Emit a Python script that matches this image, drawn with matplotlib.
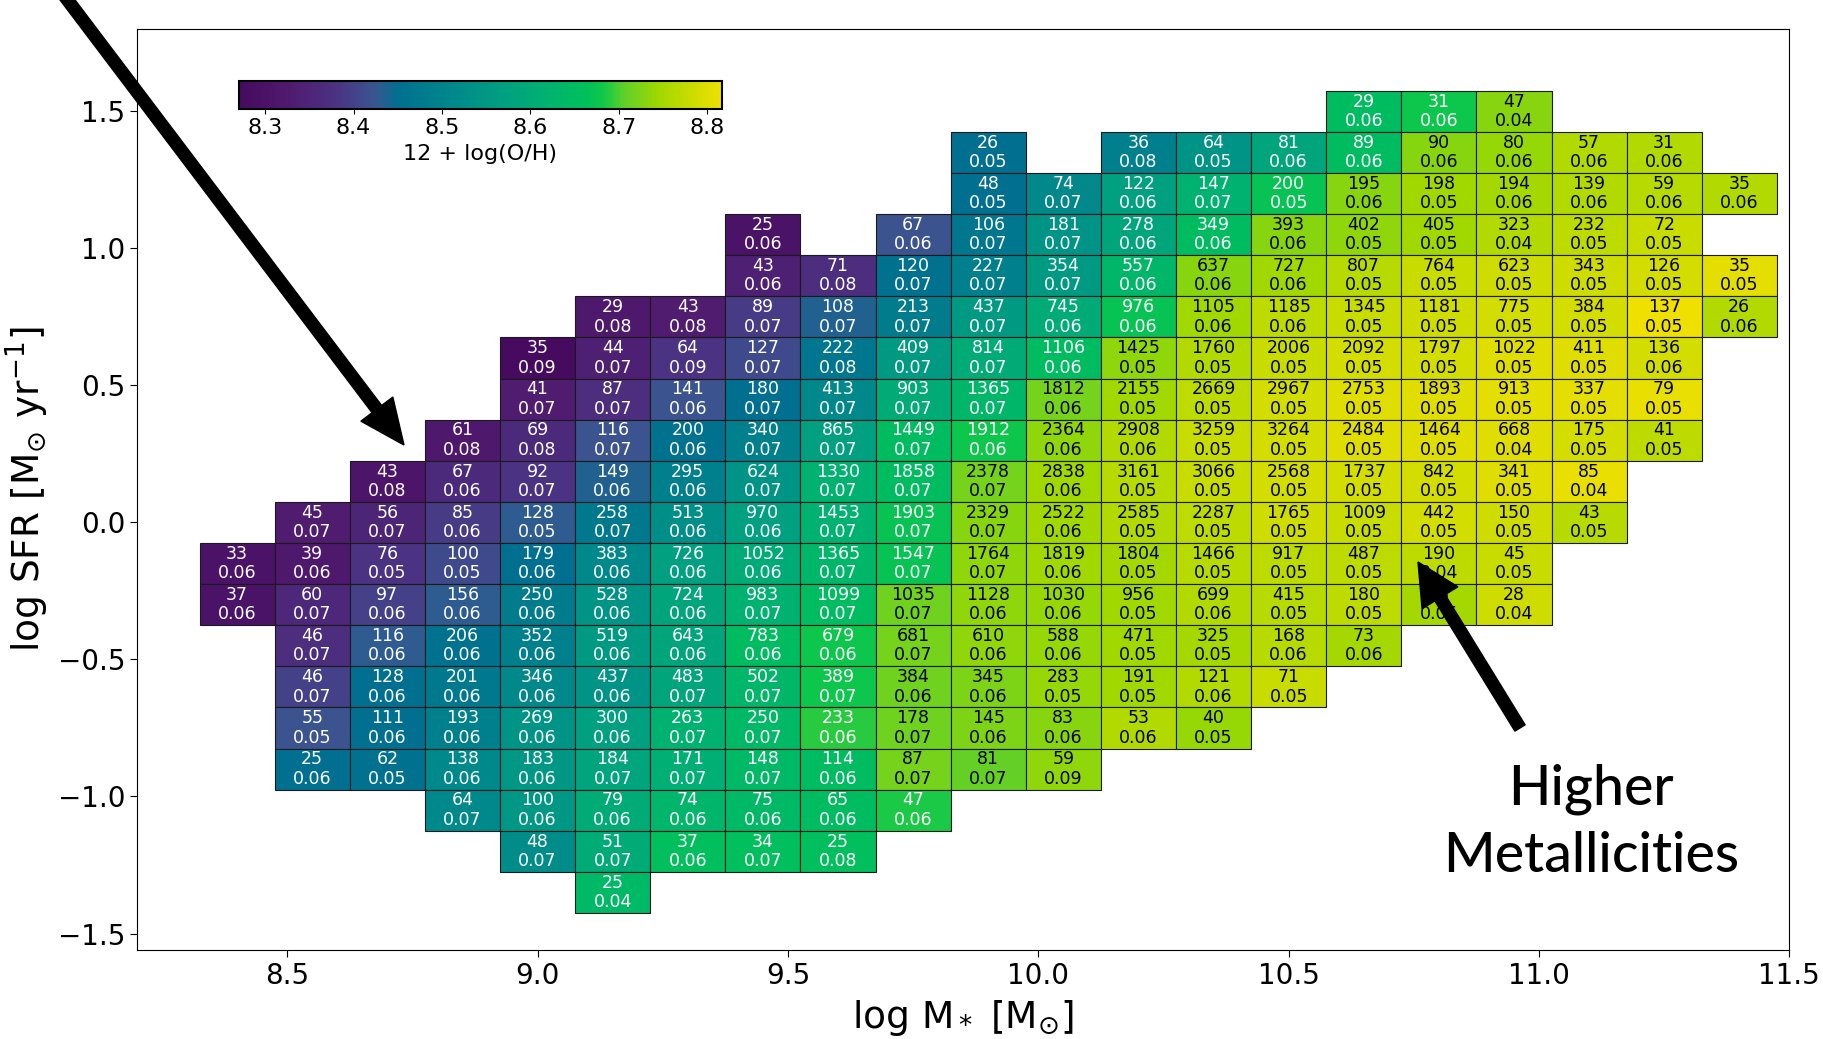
import numpy as np
import matplotlib
matplotlib.use('Agg')
import matplotlib.pyplot as plt
from matplotlib.colors import LinearSegmentedColormap, Normalize
from matplotlib.cm import ScalarMappable
from matplotlib.patches import FancyArrow
from matplotlib.transforms import IdentityTransform

#bin centres of the grid
logM_bins = [8.40, 8.55, 8.70, 8.85, 9.00, 9.15, 9.30, 9.45, 9.60, 9.75, 9.90,
             10.05, 10.20, 10.35, 10.50, 10.65, 10.80, 10.95, 11.10, 11.25, 11.40]
logSFR_bins = [1.50, 1.35, 1.20, 1.05, 0.90, 0.75, 0.60, 0.45, 0.30, 0.15, 0.00,
               -0.15, -0.30, -0.45, -0.60, -0.75, -0.90, -1.05, -1.20, -1.35]

#first mass bin filled in each SFR row (None = empty bin inside a row)
row_start = [10.65, 9.90, 9.90, 9.45, 9.45, 9.15, 9.00, 9.00, 8.85, 8.70,
             8.55, 8.40, 8.40, 8.55, 8.55, 8.55, 8.55, 8.85, 9.00, 9.15]

#number of galaxies per bin
counts = [
    [29, 31, 47],
    [26, None, 36, 64, 81, 89, 90, 80, 57, 31],
    [48, 74, 122, 147, 200, 195, 198, 194, 139, 59, 35],
    [25, None, 67, 106, 181, 278, 349, 393, 402, 405, 323, 232, 72],
    [43, 71, 120, 227, 354, 557, 637, 727, 807, 764, 623, 343, 126, 35],
    [29, 43, 89, 108, 213, 437, 745, 976, 1105, 1185, 1345, 1181, 775, 384, 137, 26],
    [35, 44, 64, 127, 222, 409, 814, 1106, 1425, 1760, 2006, 2092, 1797, 1022, 411, 136],
    [41, 87, 141, 180, 413, 903, 1365, 1812, 2155, 2669, 2967, 2753, 1893, 913, 337, 79],
    [61, 69, 116, 200, 340, 865, 1449, 1912, 2364, 2908, 3259, 3264, 2484, 1464, 668, 175, 41],
    [43, 67, 92, 149, 295, 624, 1330, 1858, 2378, 2838, 3161, 3066, 2568, 1737, 842, 341, 85],
    [45, 56, 85, 128, 258, 513, 970, 1453, 1903, 2329, 2522, 2585, 2287, 1765, 1009, 442, 150, 43],
    [33, 39, 76, 100, 179, 383, 726, 1052, 1365, 1547, 1764, 1819, 1804, 1466, 917, 487, 190, 45],
    [37, 60, 97, 156, 250, 528, 724, 983, 1099, 1035, 1128, 1030, 956, 699, 415, 180, 68, 28],
    [46, 116, 206, 352, 519, 643, 783, 679, 681, 610, 588, 471, 325, 168, 73],
    [46, 128, 201, 346, 437, 483, 502, 389, 384, 345, 283, 191, 121, 71],
    [55, 111, 193, 269, 300, 263, 250, 233, 178, 145, 83, 53, 40],
    [25, 62, 138, 183, 184, 171, 148, 114, 87, 81, 59],
    [64, 100, 79, 74, 75, 65, 47],
    [48, 51, 37, 34, 25],
    [25],
]

#scatter of the metallicity in each bin
scatter = [
    [0.06, 0.06, 0.04],
    [0.05, None, 0.08, 0.05, 0.06, 0.06, 0.06, 0.06, 0.06, 0.06],
    [0.05, 0.07, 0.06, 0.07, 0.05, 0.06, 0.05, 0.06, 0.06, 0.06, 0.06],
    [0.06, None, 0.06, 0.07, 0.07, 0.06, 0.06, 0.06, 0.05, 0.05, 0.04, 0.05, 0.05],
    [0.06, 0.08, 0.07, 0.07, 0.07, 0.06, 0.06, 0.06, 0.05, 0.05, 0.05, 0.05, 0.05, 0.05],
    [0.08, 0.08, 0.07, 0.07, 0.07, 0.07, 0.06, 0.06, 0.06, 0.06, 0.05, 0.05, 0.05, 0.05, 0.05, 0.06],
    [0.09, 0.07, 0.09, 0.07, 0.08, 0.07, 0.07, 0.06, 0.05, 0.05, 0.05, 0.05, 0.05, 0.05, 0.05, 0.06],
    [0.07, 0.07, 0.06, 0.07, 0.07, 0.07, 0.07, 0.06, 0.05, 0.05, 0.05, 0.05, 0.05, 0.05, 0.05, 0.05],
    [0.08, 0.08, 0.07, 0.06, 0.07, 0.07, 0.07, 0.06, 0.06, 0.06, 0.05, 0.05, 0.05, 0.05, 0.04, 0.05, 0.05],
    [0.08, 0.06, 0.07, 0.06, 0.06, 0.07, 0.07, 0.07, 0.07, 0.06, 0.05, 0.05, 0.05, 0.05, 0.05, 0.05, 0.04],
    [0.07, 0.07, 0.06, 0.05, 0.07, 0.06, 0.06, 0.07, 0.07, 0.07, 0.06, 0.05, 0.05, 0.05, 0.05, 0.05, 0.05, 0.05],
    [0.06, 0.06, 0.05, 0.05, 0.06, 0.06, 0.06, 0.06, 0.07, 0.07, 0.07, 0.06, 0.05, 0.05, 0.05, 0.05, 0.04, 0.05],
    [0.06, 0.07, 0.06, 0.06, 0.06, 0.06, 0.06, 0.07, 0.07, 0.07, 0.06, 0.06, 0.05, 0.06, 0.05, 0.05, 0.05, 0.04],
    [0.07, 0.06, 0.06, 0.06, 0.06, 0.06, 0.06, 0.06, 0.07, 0.06, 0.06, 0.05, 0.05, 0.06, 0.06],
    [0.07, 0.06, 0.06, 0.06, 0.06, 0.07, 0.07, 0.07, 0.06, 0.06, 0.05, 0.05, 0.06, 0.05],
    [0.05, 0.06, 0.06, 0.06, 0.06, 0.07, 0.07, 0.06, 0.07, 0.06, 0.06, 0.06, 0.05],
    [0.06, 0.05, 0.06, 0.06, 0.07, 0.07, 0.07, 0.06, 0.07, 0.07, 0.09],
    [0.07, 0.06, 0.06, 0.06, 0.06, 0.06, 0.06],
    [0.07, 0.07, 0.06, 0.07, 0.08],
    [0.04],
]

#median 12 + log(O/H) per bin
metallicity = [
    [8.65, 8.68, 8.73],
    [8.45, None, 8.49, 8.54, 8.585, 8.65, 8.73, 8.74, 8.76, 8.76],
    [8.45, 8.51, 8.57, 8.62, 8.67, 8.73, 8.745, 8.75, 8.76, 8.765, 8.76],
    [8.30, None, 8.42, 8.465, 8.54, 8.585, 8.65, 8.73, 8.735, 8.745, 8.76, 8.77, 8.78],
    [8.34, 8.37, 8.455, 8.49, 8.555, 8.635, 8.73, 8.745, 8.765, 8.78, 8.785, 8.785, 8.79, 8.805],
    [8.32, 8.33, 8.39, 8.435, 8.48, 8.555, 8.60, 8.67, 8.745, 8.77, 8.78, 8.785, 8.79, 8.79, 8.815, 8.76],
    [8.27, 8.34, 8.38, 8.41, 8.465, 8.555, 8.60, 8.65, 8.735, 8.76, 8.78, 8.79, 8.79, 8.80, 8.80, 8.79],
    [8.33, 8.37, 8.42, 8.45, 8.51, 8.60, 8.635, 8.72, 8.745, 8.77, 8.79, 8.80, 8.80, 8.805, 8.805, 8.81],
    [8.32, 8.36, 8.42, 8.455, 8.49, 8.57, 8.65, 8.68, 8.735, 8.76, 8.78, 8.79, 8.80, 8.80, 8.80, 8.79, 8.77],
    [8.31, 8.36, 8.38, 8.435, 8.49, 8.54, 8.62, 8.65, 8.72, 8.745, 8.765, 8.78, 8.79, 8.79, 8.79, 8.80, 8.81],
    [8.33, 8.35, 8.39, 8.43, 8.475, 8.525, 8.57, 8.62, 8.67, 8.73, 8.745, 8.76, 8.77, 8.785, 8.78, 8.79, 8.785, 8.765],
    [8.30, 8.32, 8.38, 8.41, 8.45, 8.51, 8.57, 8.60, 8.635, 8.67, 8.735, 8.745, 8.75, 8.765, 8.77, 8.77, 8.77, 8.78],
    [8.30, 8.355, 8.40, 8.43, 8.48, 8.54, 8.585, 8.62, 8.65, 8.715, 8.735, 8.74, 8.745, 8.76, 8.765, 8.77, 8.75, 8.785],
    [8.37, 8.43, 8.455, 8.49, 8.555, 8.585, 8.65, 8.68, 8.72, 8.735, 8.74, 8.745, 8.75, 8.765, 8.75],
    [8.40, 8.45, 8.475, 8.51, 8.54, 8.585, 8.635, 8.68, 8.715, 8.725, 8.74, 8.745, 8.76, 8.78],
    [8.42, 8.45, 8.49, 8.54, 8.57, 8.62, 8.64, 8.69, 8.715, 8.725, 8.73, 8.76, 8.74],
    [8.45, 8.455, 8.515, 8.55, 8.58, 8.61, 8.64, 8.65, 8.72, 8.71, 8.735],
    [8.515, 8.55, 8.60, 8.63, 8.64, 8.65, 8.685],
    [8.52, 8.60, 8.66, 8.66, 8.66],
    [8.64],
]

cbar_ticks = [8.3, 8.4, 8.5, 8.6, 8.7, 8.8]
zmin, zmax = 8.27, 8.817

#colour table sampled along the colour bar of the slide (a punchy viridis)
cmap_pos = [0.00, 0.10, 0.20, 0.28, 0.33, 0.45, 0.55, 0.65, 0.72, 0.755, 0.80, 0.87, 0.94, 1.00]
cmap_hex = ['#460a5e', '#4f1a6e', '#4b3282', '#3a5590', '#007090', '#008a8a', '#00a080',
            '#00b46e', '#00c05a', '#10c84a', '#60d028', '#a0d800', '#ccdc00', '#f0e000']
cmap = LinearSegmentedColormap.from_list('slide_viridis', list(zip(cmap_pos, cmap_hex)))
norm = Normalize(vmin=zmin, vmax=zmax)

fig = plt.figure(figsize=(18.24, 10.39), dpi=100)
ax = fig.add_axes([0.0751, 0.0857, 0.9059, 0.8863])

width = 0.15
for i in range(0, len(logSFR_bins)):
    j0 = logM_bins.index(row_start[i])
    xs, zs = [], []
    for k in range(0, len(counts[i])):
        if counts[i][k] is None:
            continue
        xs.append(logM_bins[j0 + k])
        zs.append(metallicity[i][k])
        txt_col = 'white' if metallicity[i][k] < 8.705 else 'black'
        ax.text(logM_bins[j0 + k], logSFR_bins[i],
                '%d\n%.2f' % (counts[i][k], scatter[i][k]),
                ha='center', va='center', fontsize=12.5, color=txt_col,
                linespacing=1.1, zorder=3)
    ax.bar(xs, width, width=width, bottom=logSFR_bins[i] - width / 2,
           color=cmap(norm(np.array(zs))), edgecolor='#1a1a1a', linewidth=0.8,
           zorder=2)

ax.set_xlim(8.2, 11.5)
ax.set_ylim(-1.56, 1.80)
ax.set_xticks([8.5, 9.0, 9.5, 10.0, 10.5, 11.0, 11.5])
ax.set_yticks([-1.5, -1.0, -0.5, 0.0, 0.5, 1.0, 1.5])
ax.tick_params(labelsize=20, length=5)
ax.set_xlabel(r'log M$_*$ [M$_{\odot}$]', fontsize=27, labelpad=6)
ax.set_ylabel(r'log SFR [M$_{\odot}$ yr$^{-1}$]', fontsize=27, labelpad=5)

#colour bar inside the panel
cax = ax.inset_axes([0.0615, 0.9136, 0.2926, 0.030])
sm = ScalarMappable(norm=norm, cmap=cmap)
cb = fig.colorbar(sm, cax=cax, orientation='horizontal', ticks=cbar_ticks)
cb.set_label('12 + log(O/H)', fontsize=16)
cax.tick_params(labelsize=16)
cb.outline.set_linewidth(1.5)

#slide annotations (pixel positions, origin bottom left)
arr1 = FancyArrow(60, 1049, 404 - 60, 594 - 1049, width=12, head_width=40,
                  head_length=45, length_includes_head=True, color='k',
                  transform=IdentityTransform())
arr2 = FancyArrow(1520, 311, 1418 - 1520, 477 - 311, width=12, head_width=42,
                  head_length=42, length_includes_head=True, color='k',
                  transform=IdentityTransform())
fig.add_artist(arr1)
fig.add_artist(arr2)
fig.text(1591 / 1824.0, 216 / 1039.0, 'Higher\nMetallicities', ha='center',
         va='center', fontsize=40, family='Lato', fontweight='medium',
         linespacing=1.4)

fig.savefig('out.png', dpi=100)
